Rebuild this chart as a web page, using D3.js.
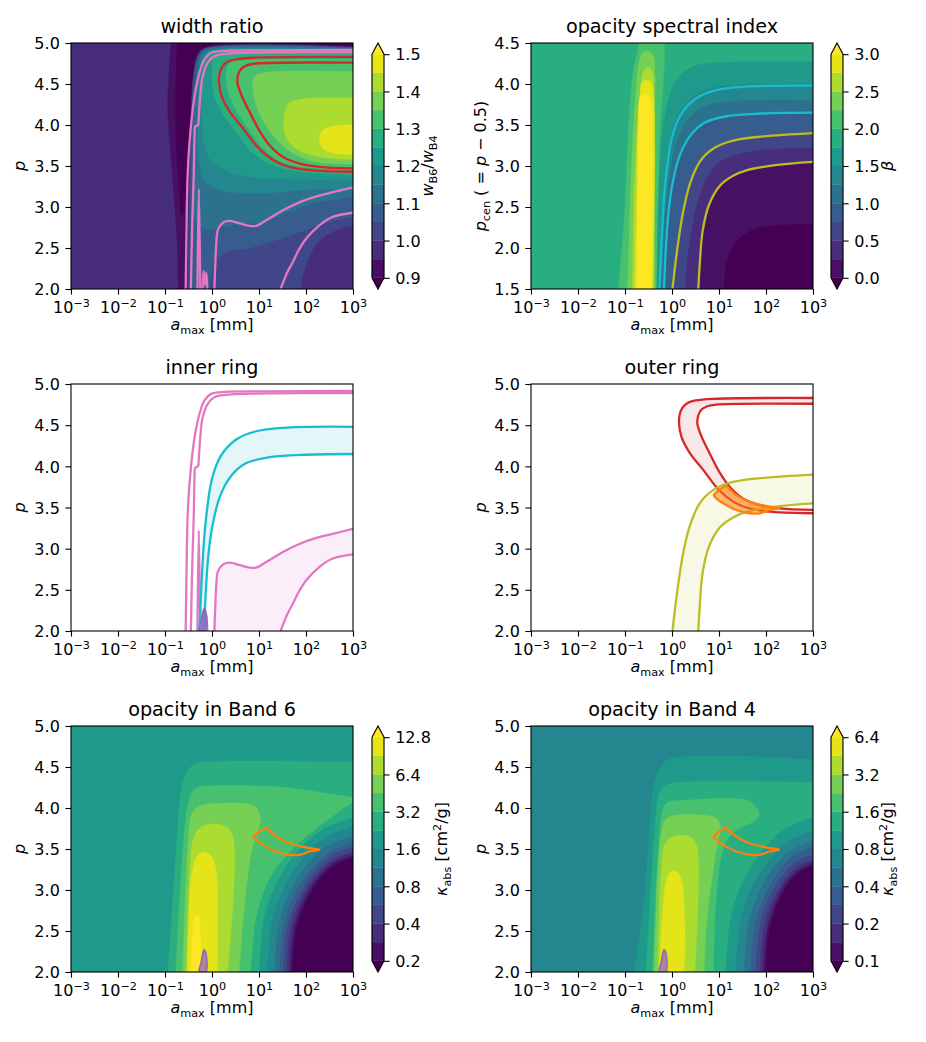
<!DOCTYPE html>
<html><head><meta charset="utf-8">
<script src="https://cdn.jsdelivr.net/npm/d3@7"></script>
<style>body{margin:0;background:#fff}svg text{font-family:"DejaVu Sans",sans-serif}</style>
</head><body><svg id="c" width="926" height="1042"></svg>
<script>
// ---------------- data ----------------
const decadeExps = [-3,-2,-1,0,1,2,3];          // log10(a_max [mm]) ticks
const pTicks = [2.0,2.5,3.0,3.5,4.0,4.5,5.0];
const pcenTicks = [1.5,2.0,2.5,3.0,3.5,4.0,4.5];

const ratioLevels = [0.9,0.95,1.0,1.05,1.1,1.15,1.2,1.25,1.3,1.35,1.4,1.45,1.5];
const betaLevels = [0,0.25,0.5,0.75,1.0,1.25,1.5,1.75,2.0,2.25,2.5,2.75,3.0];
const kappaB6Levels = [0.2,0.283,0.4,0.566,0.8,1.13,1.6,2.26,3.2,4.53,6.4,9.05,12.8];
const kappaB4Levels = [0.1,0.141,0.2,0.283,0.4,0.566,0.8,1.13,1.6,2.26,3.2,4.53,6.4];
const ratioTickLabels = ["0.9","1.0","1.1","1.2","1.3","1.4","1.5"];
const betaTickLabels = ["0.0","0.5","1.0","1.5","2.0","2.5","3.0"];
const kappaB6TickLabels = ["0.2","0.4","0.8","1.6","3.2","6.4","12.8"];
const kappaB4TickLabels = ["0.1","0.2","0.4","0.8","1.6","3.2","6.4"];

// filled-contour regions: [log10 a_max, p]; band = level index (-1 under, 12 over)
const ratioBase = 1;
const ratioLayers = [
 {band:0, close:"tr", segs:[[[3,4.92],[-0.02,4.92],[-0.23,4.84],[-0.34,4.59],[-0.41,3.78],[-0.48,2.97],[-0.52,2.0]],
                            [[-0.72,2.0],[-0.74,2.56],[-0.84,3.37],[-0.94,4.19],[-0.91,4.67],[-0.87,5.0]]]},
 {band:-1, close:"tr", segs:[[[3,4.96],[-0.09,4.96],[-0.27,4.84],[-0.38,4.59],[-0.45,3.98],[-0.52,3.37],[-0.59,2.97],[-0.65,2.89],[-0.69,3.17],[-0.76,3.78],[-0.77,4.39],[-0.74,5.0]]]},
 {band:2, close:"br", segs:[[[3,4.95],[-0.14,4.94],[-0.30,4.86],[-0.40,4.59],[-0.45,4.0],[-0.48,3.4],[-0.52,2.0]]]},
 {band:3, close:"", segs:[[[3,4.94],[-0.13,4.93],[-0.28,4.84],[-0.37,4.6],[-0.42,4.0],[-0.44,3.4],[-0.46,2.6],[-0.47,2.0]],
                          [[-0.05,2.0],[0.05,2.3],[0.3,2.45],[0.8,2.5],[1.4,2.6],[2.0,2.72],[2.5,2.82],[3,2.88]]]},
 {band:4, close:"", segs:[[[3,4.93],[-0.1,4.92],[-0.25,4.84],[-0.33,4.6],[-0.38,4.0],[-0.40,3.4],[-0.38,2.95],[-0.28,2.78],[-0.1,2.72],[0.2,2.76],[0.6,2.79],[1.1,2.82],[1.6,2.93],[2.2,3.05],[3,3.12]]]},
 {band:5, close:"", segs:[[[3,4.92],[-0.05,4.91],[-0.2,4.84],[-0.28,4.6],[-0.31,4.0],[-0.28,3.55],[-0.18,3.33],[0.1,3.22],[0.6,3.17],[1.2,3.17],[2.0,3.21],[3,3.23]]]},
 {band:6, close:"", segs:[[[3,4.90],[0.0,4.90],[-0.13,4.84],[-0.2,4.6],[-0.22,4.2],[-0.18,3.8],[-0.03,3.57],[0.3,3.44],[0.8,3.37],[1.5,3.34],[3,3.33]]]},
 {band:7, close:"", segs:[[[3,4.88],[0.2,4.87],[0.05,4.82],[0.0,4.6],[0.05,4.35],[0.25,4.12],[0.55,3.88],[0.85,3.67],[1.25,3.52],[1.8,3.44],[2.4,3.41],[3,3.40]]]},
 {band:8, close:"", segs:[[[3,4.80],[0.6,4.79],[0.38,4.76],[0.3,4.62],[0.32,4.45],[0.47,4.22],[0.75,3.97],[1.05,3.74],[1.4,3.57],[1.9,3.49],[3,3.46]]]},
 {band:9, close:"", segs:[[[3,4.65],[1.11,4.64],[0.9,4.59],[0.87,4.47],[0.97,4.19],[1.26,3.9],[1.61,3.7],[2.11,3.56],[3,3.52]]]},
 {band:10, close:"", segs:[[[3,4.33],[1.96,4.32],[1.65,4.27],[1.54,4.13],[1.57,3.86],[1.82,3.70],[2.39,3.60],[3,3.58]]]},
 {band:11, close:"", segs:[[[3,4.0],[2.6,3.99],[2.35,3.93],[2.28,3.82],[2.39,3.70],[2.67,3.65],[3,3.64]]]},
 {band:1, close:"br", segs:[[[1.89,2.0],[1.96,2.2],[2.25,2.56],[2.67,2.72],[3,2.76]]]}
];

const betaBase = 7;   // rows in p_cen
const betaLayers = [
 {band:8, close:"", segs:[[[-1.14,1.5],[-1.0,2.5],[-0.94,3.28],[-0.84,4.09],[-0.73,4.42],[-0.70,4.5]],
                          [[-0.16,4.5],[-0.16,4.3],[-0.20,3.89],[-0.27,3.28],[-0.32,1.5]]]},
 {band:9, close:"", segs:[[[-0.94,1.5],[-0.87,2.87],[-0.77,3.89],[-0.70,4.26],[-0.62,4.38],[-0.52,4.40],[-0.41,4.36],[-0.36,4.09],[-0.38,3.28],[-0.36,1.5]]]},
 {band:10, close:"", segs:[[[-0.84,1.5],[-0.79,2.87],[-0.70,3.69],[-0.59,4.17],[-0.48,4.20],[-0.41,4.13],[-0.39,3.89],[-0.40,1.5]]]},
 {band:11, close:"", segs:[[[-0.79,1.5],[-0.74,2.87],[-0.70,3.69],[-0.62,4.03],[-0.48,4.04],[-0.42,3.99],[-0.41,1.5]]]},
 {band:12, close:"", segs:[[[-0.74,1.5],[-0.73,2.87],[-0.72,3.48],[-0.66,3.85],[-0.52,3.87],[-0.46,3.81],[-0.45,1.5]]]},
 {band:6, close:"br", segs:[[[-0.32,1.5],[-0.29,2.47],[-0.22,3.28],[-0.09,3.77],[0.12,4.07],[0.48,4.22],[0.97,4.26],[3,4.27]]]},
 {band:5, close:"br", segs:[[[-0.29,1.5],[-0.24,2.1],[-0.19,2.6],[-0.12,3.0],[-0.02,3.37],[0.17,3.66],[0.48,3.85],[0.9,3.95],[1.6,3.99],[3,4.0]]]},
 {band:4, close:"br", segs:[[[-0.22,1.5],[-0.18,2.05],[-0.13,2.5],[-0.05,2.88],[0.08,3.25],[0.3,3.53],[0.6,3.7],[1.0,3.77],[1.7,3.8],[3,3.80]]]},
 {band:3, close:"br", segs:[[[-0.16,1.5],[-0.12,2.0],[-0.07,2.4],[0.01,2.74],[0.17,3.1],[0.4,3.35],[0.72,3.51],[1.2,3.6],[1.9,3.63],[3,3.64]]]},
 {band:2, close:"br", segs:[[[0.0,1.5],[0.05,1.75],[0.13,2.1],[0.23,2.45],[0.37,2.78],[0.59,3.06],[0.9,3.23],[1.3,3.32],[1.94,3.37],[3,3.41]]]},
 {band:1, close:"br", segs:[[[0.28,1.5],[0.32,1.8],[0.4,2.15],[0.52,2.5],[0.7,2.8],[0.95,3.02],[1.3,3.12],[1.9,3.19],[3,3.22]]]},
 {band:0, close:"br", segs:[[[0.55,1.5],[0.58,1.8],[0.64,2.2],[0.78,2.53],[1.01,2.76],[1.3,2.88],[1.6,2.95],[2.2,3.01],[3,3.05]]]},
 {band:-1, close:"br", segs:[[[1.11,1.5],[1.18,1.86],[1.40,2.10],[1.82,2.24],[2.39,2.28],[3,2.29]]]}
];

const kappaB6Base = 6;
const kappaB6Layers = [
 {band:7, close:"br", segs:[[[-0.94,2.0],[-0.87,2.56],[-0.80,3.17],[-0.73,3.78],[-0.66,4.19],[-0.55,4.43],[-0.38,4.53],[-0.16,4.56],[3,4.56]]]},
 {band:8, close:"br", segs:[[[-0.77,2.0],[-0.72,2.56],[-0.66,3.17],[-0.59,3.70],[-0.52,4.02],[-0.43,4.19],[-0.30,4.25],[-0.02,4.27],[1.40,4.26],[1.96,4.22],[2.53,4.17],[3,4.13]]]},
 {band:9, close:"", segs:[[[-0.62,2.0],[-0.59,2.56],[-0.55,3.17],[-0.50,3.66],[-0.45,3.90],[-0.34,4.0],[-0.16,4.04],[0.83,4.04],[0.97,3.98],[1.03,3.86],[0.97,3.70],[0.87,3.54],[0.79,3.29],[0.72,2.97],[0.65,2.56],[0.58,2.0]]]},
 {band:10, close:"", segs:[[[-0.55,2.0],[-0.52,2.56],[-0.48,3.17],[-0.43,3.54],[-0.34,3.70],[-0.16,3.79],[0.12,3.80],[0.33,3.76],[0.44,3.66],[0.48,3.46],[0.46,2.97],[0.40,2.48],[0.33,2.0]]]},
 {band:11, close:"", segs:[[[-0.52,2.0],[-0.50,2.56],[-0.46,3.05],[-0.41,3.25],[-0.34,3.39],[-0.20,3.46],[-0.06,3.44],[0.05,3.33],[0.11,3.09],[0.12,2.56],[0.11,2.0]]]},
 {band:12, close:"", segs:[[[-0.45,2.0],[-0.41,2.48],[-0.36,2.68],[-0.29,2.70],[-0.25,2.48],[-0.21,2.16],[-0.18,2.0]]]},
 {band:7, close:"br", segs:[[[0.83,2.0],[0.95,2.67],[1.24,3.15],[1.72,3.50],[2.30,3.78],[3,4.07]]]},
 {band:6, close:"br", segs:[[[1.01,2.0],[1.11,2.65],[1.38,3.09],[1.82,3.47],[2.36,3.74],[3,3.88]]]},
 {band:5, close:"br", segs:[[[1.18,2.0],[1.28,2.61],[1.53,3.02],[1.93,3.38],[2.42,3.64],[3,3.77]]]},
 {band:4, close:"br", segs:[[[1.33,2.0],[1.42,2.57],[1.65,2.96],[2.01,3.30],[2.46,3.54],[3,3.66]]]},
 {band:3, close:"br", segs:[[[1.43,2.0],[1.52,2.54],[1.73,2.91],[2.08,3.23],[2.50,3.46],[3,3.58]]]},
 {band:2, close:"br", segs:[[[1.52,2.0],[1.60,2.52],[1.81,2.87],[2.13,3.18],[2.52,3.41],[3,3.52]]]},
 {band:1, close:"br", segs:[[[1.60,2.0],[1.67,2.50],[1.87,2.85],[2.17,3.14],[2.55,3.36],[3,3.46]]]},
 {band:0, close:"br", segs:[[[1.67,2.0],[1.74,2.49],[1.92,2.82],[2.21,3.11],[2.57,3.32],[3,3.42]]]},
 {band:-1, close:"br", segs:[[[1.72,2.0],[1.79,2.48],[1.97,2.80],[2.25,3.09],[2.6,3.29],[3,3.39]]]}
];

const kappaB4Base = 5;
const kappaB4Layers = [
 {band:6, close:"br", segs:[[[-0.80,2.0],[-0.62,2.76],[-0.52,3.37],[-0.45,3.98],[-0.38,4.31],[-0.27,4.47],[-0.09,4.59],[3,4.59]]]},
 {band:7, close:"br", segs:[[[-0.55,2.0],[-0.48,2.76],[-0.41,3.37],[-0.36,3.78],[-0.30,4.11],[-0.20,4.25],[-0.02,4.30],[3,4.31]]]},
 {band:8, close:"", segs:[[[-0.41,2.0],[-0.36,2.76],[-0.30,3.37],[-0.25,3.78],[-0.20,3.98],[-0.09,4.07],[0.2,4.09],[1.61,4.09],[1.82,3.98],[1.86,3.92],[1.75,3.84],[1.54,3.78],[1.26,3.68],[1.11,3.54],[1.01,3.29],[0.94,2.89],[0.90,2.48],[0.89,2.0]]]},
 {band:9, close:"", segs:[[[-0.38,2.0],[-0.34,2.76],[-0.29,3.37],[-0.23,3.70],[-0.16,3.84],[-0.02,3.90],[0.83,3.90],[0.97,3.86],[1.03,3.76],[0.97,3.58],[0.89,3.29],[0.79,2.89],[0.72,2.48],[0.69,2.0]]]},
 {band:10, close:"", segs:[[[-0.30,2.0],[-0.27,2.76],[-0.22,3.29],[-0.16,3.54],[-0.02,3.64],[0.33,3.66],[0.48,3.60],[0.55,3.46],[0.56,2.97],[0.53,2.48],[0.49,2.0]]]},
 {band:11, close:"", segs:[[[-0.27,2.0],[-0.22,2.56],[-0.16,2.97],[-0.09,3.17],[0.01,3.23],[0.12,3.21],[0.21,3.09],[0.26,2.76],[0.28,2.36],[0.26,2.0]]]},
 {band:6, close:"br", segs:[[[1.15,2.0],[1.25,2.65],[1.50,3.09],[1.91,3.47],[2.40,3.74],[3,3.88]]]},
 {band:5, close:"br", segs:[[[1.36,2.0],[1.45,2.59],[1.67,2.99],[2.04,3.34],[2.48,3.59],[3,3.72]]]},
 {band:4, close:"br", segs:[[[1.54,2.0],[1.62,2.55],[1.82,2.92],[2.13,3.25],[2.53,3.48],[3,3.60]]]},
 {band:3, close:"br", segs:[[[1.68,2.0],[1.75,2.52],[1.93,2.87],[2.22,3.18],[2.57,3.41],[3,3.52]]]},
 {band:2, close:"br", segs:[[[1.79,2.0],[1.85,2.49],[2.01,2.83],[2.28,3.12],[2.61,3.33],[3,3.43]]]},
 {band:1, close:"br", segs:[[[1.88,2.0],[1.94,2.47],[2.09,2.79],[2.34,3.07],[2.64,3.27],[3,3.37]]]},
 {band:0, close:"br", segs:[[[1.95,2.0],[2.01,2.46],[2.15,2.76],[2.38,3.04],[2.67,3.23],[3,3.33]]]},
 {band:-1, close:"br", segs:[[[2.0,2.0],[2.06,2.44],[2.19,2.74],[2.41,3.01],[2.68,3.20],[3,3.29]]]}
];

// constraint contours [log10 a_max, p]
const pinkOuterTop = [[-0.56,2.0],[-0.54,2.8],[-0.52,3.37],[-0.48,3.78],[-0.41,4.19],[-0.36,4.39],[-0.27,4.63],[-0.16,4.80],[-0.02,4.88],[0.3,4.905],[1.2,4.91],[3,4.915]];
const pinkInnerTop = [[-0.45,2.0],[-0.42,2.8],[-0.39,3.37],[-0.37,3.9],[-0.36,3.98],[-0.30,4.0],[-0.28,4.1],[-0.25,4.35],[-0.2,4.59],[-0.09,4.76],[0.05,4.84],[0.4,4.875],[1.2,4.885],[3,4.89]];
const pinkSpike = [[-0.31,2.0],[-0.28,3.22],[-0.25,2.0]];
const pinkWiggle = [[-0.2,2.0],[-0.18,2.22],[-0.15,2.05],[-0.12,2.2],[-0.1,2.0]];
const pinkMidLow = [[0.05,2.0],[0.07,2.3],[0.09,2.55],[0.13,2.73],[0.24,2.81],[0.38,2.83],[0.59,2.80],[0.80,2.77],[0.94,2.77],[1.16,2.84],[1.51,2.96],[1.87,3.06],[2.22,3.13],[2.57,3.18],[3,3.24]];
const pinkLowest = [[1.46,2.0],[1.6,2.2],[1.72,2.33],[1.85,2.48],[2.01,2.62],[2.29,2.78],[2.57,2.88],[3,2.93]];
const cyanUpper = [[-0.27,2.0],[-0.22,2.6],[-0.17,3.1],[-0.1,3.5],[0.0,3.85],[0.19,4.13],[0.5,4.32],[0.9,4.42],[1.6,4.47],[3,4.48]];
const cyanLower = [[-0.17,2.0],[-0.13,2.5],[-0.08,2.9],[0.0,3.25],[0.16,3.62],[0.39,3.87],[0.7,4.03],[1.2,4.11],[1.9,4.14],[3,4.15]];
const yellowUpper = [[0.01,2.0],[0.06,2.25],[0.14,2.6],[0.24,2.95],[0.38,3.28],[0.6,3.56],[0.9,3.72],[1.3,3.81],[1.94,3.86],[3,3.90]];
const yellowLower = [[0.56,2.0],[0.59,2.3],[0.65,2.7],[0.79,3.03],[1.02,3.26],[1.3,3.38],[1.6,3.45],[2.2,3.51],[3,3.55]];
const redOuter = [[3,4.83],[0.87,4.82],[0.5,4.80],[0.33,4.77],[0.22,4.71],[0.16,4.62],[0.15,4.52],[0.2,4.36],[0.38,4.16],[0.66,3.96],[0.94,3.75],[1.16,3.63],[1.44,3.53],[1.79,3.47],[2.29,3.44],[3,3.43]];
const redInner = [[3,4.76],[0.94,4.75],[0.75,4.73],[0.63,4.69],[0.56,4.62],[0.54,4.52],[0.63,4.36],[0.80,4.16],[1.02,3.92],[1.23,3.75],[1.51,3.61],[1.87,3.53],[2.29,3.49],[3,3.47]];
const orangeOverlap = [[0.89,3.65],[1.0,3.71],[1.16,3.76],[1.25,3.71],[1.37,3.65],[1.65,3.57],[2.08,3.51],[2.28,3.49],[2.08,3.47],[1.87,3.43],[1.65,3.43],[1.37,3.47],[1.09,3.55],[0.91,3.63]];
const purpleOverlap = [[-0.27,2.0],[-0.23,2.12],[-0.2,2.22],[-0.17,2.27],[-0.14,2.25],[-0.13,2.0]];
const pcenOffset = 0.5;

// ---------------- drawing ----------------
const svg = d3.select("#c");
svg.append("rect").attr("width",926).attr("height",1042).attr("fill","#fff");
const FS = 16, TFS = 19.2, TICK = 5.6, LW = 2.3;
const C = {pink:"#e377c2", red:"#d62728", cyan:"#17becf", olive:"#bcbd22", orange:"#ff7f0e", purple:"#9467bd"};
const bandColor = b => b < 0 ? d3.interpolateViridis(0) : (b >= 12 ? d3.interpolateViridis(1) : d3.interpolateViridis((b + 0.5) / 12));

function rich(t, parts, fs){
  let cur = 0;
  parts.forEach(p => {
    const want = p.sub ? 0.22*fs : (p.sup ? -0.4*fs : 0);
    const ts = t.append("tspan").text(p.t);
    if (want !== cur) ts.attr("dy", want - cur);
    if (p.sub || p.sup) ts.attr("font-size", 0.7*fs);
    if (p.it) ts.attr("font-style","italic");
    cur = want;
  });
}

function makePanel(x0, y0, w, h, ydom, yticks, title, ylabelParts, ylabelX, id){
  const g = svg.append("g");
  const sx = d3.scaleLog().domain([1e-3,1e3]).range([x0, x0+w]);
  const sy = d3.scaleLinear().domain(ydom).range([y0+h, y0]);
  g.append("clipPath").attr("id","clip"+id).append("rect").attr("x",x0).attr("y",y0).attr("width",w).attr("height",h);
  const plot = g.append("g").attr("clip-path",`url(#clip${id})`);
  const line = d3.line().x(d => sx(Math.pow(10,d[0]))).y(d => sy(d[1])).curve(d3.curveCatmullRom.alpha(0.5));
  // axes
  const gx = g.append("g").attr("transform",`translate(0,${y0+h})`)
    .call(d3.axisBottom(sx).tickValues(decadeExps.map(e => Math.pow(10,e))).tickSize(TICK).tickPadding(TICK).tickSizeOuter(0));
  gx.select(".domain").remove();
  gx.selectAll(".tick line").attr("stroke","#000").attr("stroke-width",1.1);
  gx.selectAll(".tick text").each(function(d){
    const e = Math.round(Math.log10(d));
    const t = d3.select(this).text(null).attr("dy",null).attr("y",24).attr("font-size",FS).attr("fill","#000").attr("font-family","DejaVu Sans");
    rich(t, [{t:"10"},{t:(e<0?"\u2212"+(-e):String(e)), sup:true}], FS);
    t.selectAll("tspan").filter((_,i)=>i===1).attr("dy",-6);
  });
  const gy = g.append("g").attr("transform",`translate(${x0},0)`)
    .call(d3.axisLeft(sy).tickValues(yticks).tickFormat(d3.format(".1f")).tickSize(TICK).tickPadding(TICK).tickSizeOuter(0));
  gy.select(".domain").remove();
  gy.selectAll(".tick line").attr("stroke","#000").attr("stroke-width",1.1);
  gy.selectAll(".tick text").attr("font-size",FS).attr("fill","#000").attr("font-family","DejaVu Sans").attr("dy","0.36em");
  // labels
  const xl = g.append("text").attr("x",x0+w/2).attr("y",y0+h+41).attr("text-anchor","middle").attr("font-size",FS);
  rich(xl, [{t:"a",it:true},{t:"max",sub:true},{t:" [mm]"}], FS);
  const yl = g.append("text").attr("transform",`translate(${ylabelX},${y0+h/2}) rotate(-90)`).attr("text-anchor","middle").attr("font-size",FS);
  rich(yl, ylabelParts, FS);
  g.append("text").attr("x",x0+w/2).attr("y",y0-9.6).attr("text-anchor","middle").attr("font-size",TFS).text(title);
  const frame = () => g.append("rect").attr("x",x0).attr("y",y0).attr("width",w).attr("height",h).attr("fill","none").attr("stroke","#000").attr("stroke-width",1.1);
  return {g, plot, sx, sy, line, frame, x0, y0, w, h};
}

function segsPath(P, segs, close){
  let s = "";
  segs.forEach((seg,i) => { let d = P.line(seg); if (i>0) d = "L" + d.slice(1); s += d; });
  const xd = P.sx.domain(), yd = P.sy.domain();
  for (const c of close.split("").reduce((a,ch,i,arr)=> (i%2===0 ? a.concat([ch+arr[i+1]]) : a), [])) {
    const cx = c[1]==="r" ? P.sx(xd[1]) : P.sx(xd[0]);
    const cy = c[0]==="t" ? P.sy(yd[1]) : P.sy(yd[0]);
    s += `L${cx},${cy}`;
  }
  return s + "Z";
}

function drawField(P, base, layers){
  P.plot.append("rect").attr("x",P.x0).attr("y",P.y0).attr("width",P.w).attr("height",P.h).attr("fill",bandColor(base));
  layers.forEach(L => {
    P.plot.append("path").attr("d", segsPath(P, L.segs, L.close)).attr("fill", bandColor(L.band))
      .attr("stroke", bandColor(L.band)).attr("stroke-width",0.4);
  });
}

function drawLine(P, pts, color, dy){
  const d = dy ? pts.map(q => [q[0], q[1]-dy]) : pts;
  P.plot.append("path").attr("d", P.line(d)).attr("fill","none").attr("stroke",color)
    .attr("stroke-width",LW).attr("stroke-linejoin","round").attr("stroke-linecap","round");
}
function fillBetween(P, a, b, color, op){
  const d = P.line(a) + "L" + P.line(b.slice().reverse()).slice(1) + "Z";
  P.plot.append("path").attr("d", d).attr("fill", color).attr("fill-opacity", op);
}
function closedShape(P, pts, fill, fop, stroke, sw){
  const ln = d3.line().x(d => P.sx(Math.pow(10,d[0]))).y(d => P.sy(d[1])).curve(d3.curveCatmullRomClosed.alpha(0.5));
  P.plot.append("path").attr("d", ln(pts)).attr("fill", fill).attr("fill-opacity", fop)
    .attr("stroke", stroke).attr("stroke-width", sw).attr("stroke-linejoin","round");
}

function colorbar(x, yTop, yBot, levels, isLog, labels, labelParts, labelX){
  const w = 12, n = levels.length - 1;
  const ext = (yBot - yTop) / 1.1 * 0.05;
  const bTop = yTop + ext, bBot = yBot - ext;
  const cs = (isLog ? d3.scaleLog() : d3.scaleLinear()).domain([levels[0], levels[n]]).range([bBot, bTop]);
  const g = svg.append("g");
  for (let i = 0; i < n; i++) {
    g.append("rect").attr("x",x).attr("width",w).attr("y",cs(levels[i+1])).attr("height",cs(levels[i])-cs(levels[i+1]))
      .attr("fill",bandColor(i)).attr("stroke",bandColor(i)).attr("stroke-width",0.3);
  }
  g.append("path").attr("d",`M${x},${bTop}L${x+w/2},${yTop}L${x+w},${bTop}Z`).attr("fill",bandColor(12));
  g.append("path").attr("d",`M${x},${bBot}L${x+w/2},${yBot}L${x+w},${bBot}Z`).attr("fill",bandColor(-1));
  g.append("path").attr("d",`M${x},${bTop}L${x+w/2},${yTop}L${x+w},${bTop}L${x+w},${bBot}L${x+w/2},${yBot}L${x},${bBot}Z`)
    .attr("fill","none").attr("stroke","#000").attr("stroke-width",1.1);
  const ax = g.append("g").attr("transform",`translate(${x+w},0)`)
    .call(d3.axisRight(cs).tickValues(labels.map(Number)).tickFormat((d,i)=>labels[i]).tickSize(TICK).tickPadding(TICK).tickSizeOuter(0));
  ax.select(".domain").remove();
  ax.selectAll(".tick line").attr("stroke","#000").attr("stroke-width",1.1);
  ax.selectAll(".tick text").attr("font-size",FS).attr("fill","#000").attr("font-family","DejaVu Sans").attr("dy","0.36em");
  const t = g.append("text").attr("transform",`translate(${labelX},${(yTop+yBot)/2}) rotate(-90)`).attr("text-anchor","middle").attr("font-size",FS);
  rich(t, labelParts, FS);
}

const colL = 71, colR = 531, PW = 282;
const rows = [{y:43,h:246},{y:384,h:247},{y:726,h:246}];
const pLabel = [{t:"p",it:true}];

// Panel 1: width ratio
const P1 = makePanel(colL, rows[0].y, PW, rows[0].h, [2,5], pTicks, "width ratio", pLabel, 25, 1);
drawField(P1, ratioBase, ratioLayers);
[pinkOuterTop, pinkInnerTop, pinkSpike, pinkWiggle, pinkMidLow, pinkLowest].forEach(l => drawLine(P1, l, C.pink));
[redOuter, redInner].forEach(l => drawLine(P1, l, C.red));
P1.frame();
colorbar(372, rows[0].y, rows[0].y+rows[0].h, ratioLevels, false, ratioTickLabels,
  [{t:"w",it:true},{t:"B6",sub:true},{t:"/"},{t:"w",it:true},{t:"B4",sub:true}], 433);

// Panel 2: opacity spectral index (y = p_cen)
const P2 = makePanel(colR, rows[0].y, PW, rows[0].h, [1.5,4.5], pcenTicks, "opacity spectral index",
  [{t:"p",it:true},{t:"cen",sub:true},{t:" ( = "},{t:"p",it:true},{t:" \u2212 0.5)"}], 486, 2);
drawField(P2, betaBase, betaLayers);
[cyanUpper, cyanLower].forEach(l => drawLine(P2, l, C.cyan, pcenOffset));
[yellowUpper, yellowLower].forEach(l => drawLine(P2, l, C.olive, pcenOffset));
P2.frame();
colorbar(831, rows[0].y, rows[0].y+rows[0].h, betaLevels, false, betaTickLabels, [{t:"\u03b2",it:true}], 893);

// Panel 3: inner ring
const P3 = makePanel(colL, rows[1].y, PW, rows[1].h, [2,5], pTicks, "inner ring", pLabel, 25, 3);
fillBetween(P3, pinkMidLow, pinkLowest, C.pink, 0.12);
fillBetween(P3, cyanUpper, cyanLower, C.cyan, 0.12);
[pinkOuterTop, pinkInnerTop, pinkSpike, pinkWiggle, pinkMidLow, pinkLowest].forEach(l => drawLine(P3, l, C.pink));
[cyanUpper, cyanLower].forEach(l => drawLine(P3, l, C.cyan));
closedShape(P3, purpleOverlap, C.purple, 0.75, C.purple, 1.6);
P3.frame();

// Panel 4: outer ring
const P4 = makePanel(colR, rows[1].y, PW, rows[1].h, [2,5], pTicks, "outer ring", pLabel, 486, 4);
fillBetween(P4, redOuter, redInner, C.red, 0.11);
fillBetween(P4, yellowUpper, yellowLower, C.olive, 0.11);
[redOuter, redInner].forEach(l => drawLine(P4, l, C.red));
[yellowUpper, yellowLower].forEach(l => drawLine(P4, l, C.olive));
closedShape(P4, orangeOverlap, C.orange, 0.55, C.orange, LW);
P4.frame();

// Panel 5: opacity in Band 6
const P5 = makePanel(colL, rows[2].y, PW, rows[2].h, [2,5], pTicks, "opacity in Band 6", pLabel, 25, 5);
drawField(P5, kappaB6Base, kappaB6Layers);
closedShape(P5, orangeOverlap, "none", 0, C.orange, LW);
closedShape(P5, purpleOverlap, C.purple, 0.75, C.purple, 1.6);
P5.frame();
colorbar(372, rows[2].y, rows[2].y+rows[2].h, kappaB6Levels, true, kappaB6TickLabels,
  [{t:"\u03ba",it:true},{t:"abs",sub:true},{t:" [cm"},{t:"2",sup:true},{t:"/g]"}], 447);

// Panel 6: opacity in Band 4
const P6 = makePanel(colR, rows[2].y, PW, rows[2].h, [2,5], pTicks, "opacity in Band 4", pLabel, 486, 6);
drawField(P6, kappaB4Base, kappaB4Layers);
closedShape(P6, orangeOverlap, "none", 0, C.orange, LW);
closedShape(P6, purpleOverlap, C.purple, 0.75, C.purple, 1.6);
P6.frame();
colorbar(831, rows[2].y, rows[2].y+rows[2].h, kappaB4Levels, true, kappaB4TickLabels,
  [{t:"\u03ba",it:true},{t:"abs",sub:true},{t:" [cm"},{t:"2",sup:true},{t:"/g]"}], 893);
</script></body></html>
